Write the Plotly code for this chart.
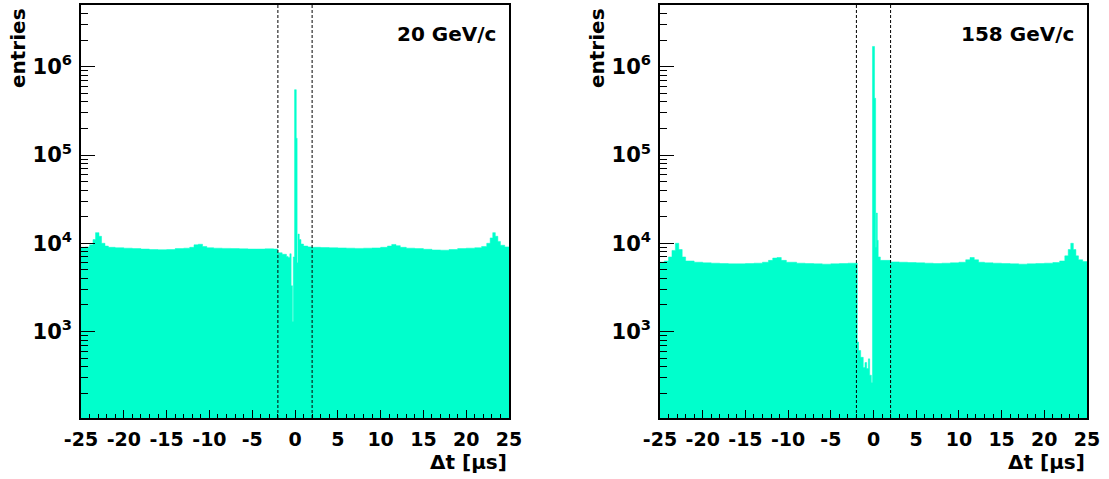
import plotly.graph_objects as go

# ---------------- data ----------------
# step histograms: left bin edges (µs) and entries; last edge is 25
t_20 = [-25.0, -24.5, -24.0, -23.6, -23.3, -22.9, -22.6, -22.2, -21.8, -21.0,
        -20.0, -19.0, -18.0, -17.0, -16.0, -15.0, -14.0, -13.0, -12.3, -11.8,
        -11.3, -10.8, -10.3, -9.5, -8.5, -7.5, -6.5, -5.5, -4.5, -3.5,
        -2.5, -2.0, -1.5, -1.0, -0.8, -0.6, -0.45, -0.3, -0.2, -0.05,
        0.15, 0.25, 0.35, 0.5, 0.7, 1.0, 1.5, 2.0, 3.0, 4.0,
        5.0, 6.0, 7.0, 8.0, 9.0, 10.0, 10.8, 11.3, 11.8, 12.3,
        13.0, 14.0, 15.0, 16.0, 17.0, 18.0, 19.0, 20.0, 21.0, 21.8,
        22.4, 22.8, 23.1, 23.4, 23.7, 24.0, 24.5, 25.0]
n_20 = [9.0e3, 9.1e3, 9.6e3, 1.1e4, 1.32e4, 1.2e4, 1.0e4, 9.3e3, 9.0e3, 8.9e3,
        8.8e3, 8.7e3, 8.6e3, 8.5e3, 8.45e3, 8.5e3, 8.7e3, 8.8e3, 9.0e3, 9.6e3,
        9.75e3, 9.2e3, 8.9e3, 8.8e3, 8.75e3, 8.7e3, 8.65e3, 8.6e3, 8.6e3, 8.65e3,
        8.6e3, 7.8e3, 7.5e3, 7.1e3, 6.9e3, 7.6e3, 3.3e3, 1.3e3, 7.0e3, 5.5e5,
        1.55e5, 6.0e3, 1.27e4, 1.1e4, 9.8e3, 9.3e3, 9.1e3, 9.0e3, 8.95e3, 8.9e3,
        8.85e3, 8.8e3, 8.75e3, 8.8e3, 8.85e3, 9.0e3, 9.3e3, 9.7e3, 9.4e3, 9.0e3,
        8.8e3, 8.7e3, 8.55e3, 8.4e3, 8.35e3, 8.5e3, 8.7e3, 8.8e3, 8.9e3, 9.2e3,
        1.0e4, 1.15e4, 1.32e4, 1.2e4, 1.05e4, 9.5e3, 9.1e3, 9.1e3]

t_158 = [-25.0, -24.5, -24.0, -23.6, -23.2, -22.8, -22.4, -22.0, -21.0, -20.0,
         -19.0, -18.0, -17.0, -16.0, -15.0, -14.0, -13.0, -12.3, -11.8, -11.3,
         -10.8, -10.2, -9.0, -8.0, -7.0, -6.0, -5.0, -4.0, -3.0, -1.9,
         -1.75, -1.5, -1.2, -1.0, -0.8, -0.6, -0.45, -0.25, -0.12, 0.12,
         0.25, 0.32, 0.45, 0.55, 0.8, 2.0, 3.0, 4.0, 5.0, 6.0,
         7.0, 8.0, 9.0, 10.0, 10.8, 11.3, 11.8, 12.3, 13.0, 14.0,
         15.0, 16.0, 17.0, 18.0, 19.0, 20.0, 21.0, 21.8, 22.4, 22.8,
         23.1, 23.4, 23.7, 24.0, 24.5, 25.0]
n_158 = [6.1e3, 6.3e3, 7.0e3, 8.3e3, 1.0e4, 8.5e3, 7.0e3, 6.3e3, 6.1e3, 6.0e3,
         5.95e3, 5.9e3, 5.85e3, 5.85e3, 5.9e3, 5.95e3, 6.1e3, 6.4e3, 6.8e3, 6.9e3,
         6.4e3, 6.1e3, 5.95e3, 5.9e3, 5.85e3, 5.8e3, 5.85e3, 5.9e3, 5.95e3, 760,
         610, 510, 390, 445, 380, 490, 320, 265, 1.7e6, 4.4e5,
         9.0e3, 2.2e4, 1.08e4, 7.0e3, 6.4e3, 6.15e3, 6.1e3, 6.05e3, 6.0e3, 5.95e3,
         5.9e3, 5.95e3, 6.0e3, 6.1e3, 6.5e3, 6.9e3, 6.5e3, 6.1e3, 6.0e3, 5.95e3,
         5.9e3, 5.85e3, 5.8e3, 5.85e3, 5.9e3, 5.95e3, 6.05e3, 6.3e3, 7.2e3, 8.5e3,
         1.0e4, 8.5e3, 7.2e3, 6.5e3, 6.2e3, 6.2e3]

panel_labels = ["20 GeV/c", "158 GeV/c"]
cut_lines = [-2, 2]
x_ticks = [-25, -20, -15, -10, -5, 0, 5, 10, 15, 20, 25]
x_minor = [v for v in range(-25, 26) if v % 5 != 0]
y_ticks = [1e3, 1e4, 1e5, 1e6]
y_ticktext = ["<b>10<sup>3</sup></b>", "<b>10<sup>4</sup></b>",
              "<b>10<sup>5</sup></b>", "<b>10<sup>6</sup></b>"]
y_minor = [m * 10 ** k for k in range(2, 7) for m in range(2, 10)]

FILL = "#00FFCC"
FONT = "DejaVu Sans"

fig = go.Figure()
series = [(t_20, n_20), (t_158, n_158)]
for i, (t, n) in enumerate(series):
    suffix = "" if i == 0 else "2"
    fig.add_trace(go.Scatter(
        x=t, y=n, mode="lines", line=dict(shape="hv", width=0.5, color=FILL),
        fill="tozeroy", fillcolor=FILL, hoverinfo="skip", showlegend=False,
        xaxis="x" + suffix, yaxis="y" + suffix))

W, H = 1109, 479


def px(x):
    return x / W


def py(y):
    return (H - y) / H


xdoms = [[px(81), px(509)], [px(660), px(1087)]]
ydom = [py(418), py(5)]

axcommon = dict(showline=True, linecolor="black", linewidth=1.5, mirror=True,
                showgrid=False, zeroline=False, ticks="inside",
                tickcolor="black", automargin=False)
panel_left = [81, 660]
panel_right = [509, 1087]
for i in range(2):
    suffix = "" if i == 0 else "2"
    fig.layout["xaxis" + suffix] = dict(
        axcommon, domain=xdoms[i], range=[-25, 25], anchor="y" + suffix,
        tickmode="array", tickvals=x_ticks,
        ticktext=["<b>%d</b>" % v for v in x_ticks],
        ticklen=8, tickwidth=1, ticklabelstandoff=3,
        tickfont=dict(family=FONT, size=19, color="black"),
        minor=dict(tickmode="array", tickvals=x_minor, ticks="inside",
                   ticklen=4, tickcolor="black", tickwidth=1))
    fig.layout["yaxis" + suffix] = dict(
        axcommon, domain=ydom, type="log", range=[2.02, 6.70],
        anchor="x" + suffix, tickmode="array", tickvals=y_ticks,
        ticktext=y_ticktext, ticklen=14, tickwidth=1, ticklabelstandoff=3,
        tickfont=dict(family=FONT, size=21, color="black"),
        minor=dict(tickmode="array", tickvals=y_minor, ticks="inside",
                   ticklen=7, tickcolor="black", tickwidth=1))
    for c in cut_lines:
        fig.add_shape(type="line", x0=c, x1=c, y0=0, y1=1,
                      xref="x" + suffix, yref="y" + suffix + " domain",
                      line=dict(color="black", width=1, dash="3px,2px"))
    fig.add_annotation(text="<b>" + panel_labels[i] + "</b>",
                       xref="paper", yref="paper",
                       x=px(panel_right[i] - 11), y=py(34),
                       xanchor="right", yanchor="middle", showarrow=False,
                       font=dict(family=FONT, size=20, color="black"))
    fig.add_annotation(text="<b>entries</b>", textangle=-90,
                       xref="paper", yref="paper",
                       x=px(panel_left[i] - 63), y=py(6),
                       xanchor="center", yanchor="top", showarrow=False,
                       font=dict(family=FONT, size=20, color="black"))
    fig.add_annotation(text="<b>\u0394t [\u03bcs]</b>",
                       xref="paper", yref="paper",
                       x=px(panel_right[i]), y=py(462),
                       xanchor="right", yanchor="middle", showarrow=False,
                       font=dict(family=FONT, size=20, color="black"))

fig.update_layout(width=W, height=H, margin=dict(l=0, r=0, t=0, b=0),
                  paper_bgcolor="white", plot_bgcolor="white")
# remove the browser's default 8 px page margin so the figure fills the window
fig.write_html("out.html", config={"displayModeBar": False},
               post_script="document.body.style.margin='0';")
